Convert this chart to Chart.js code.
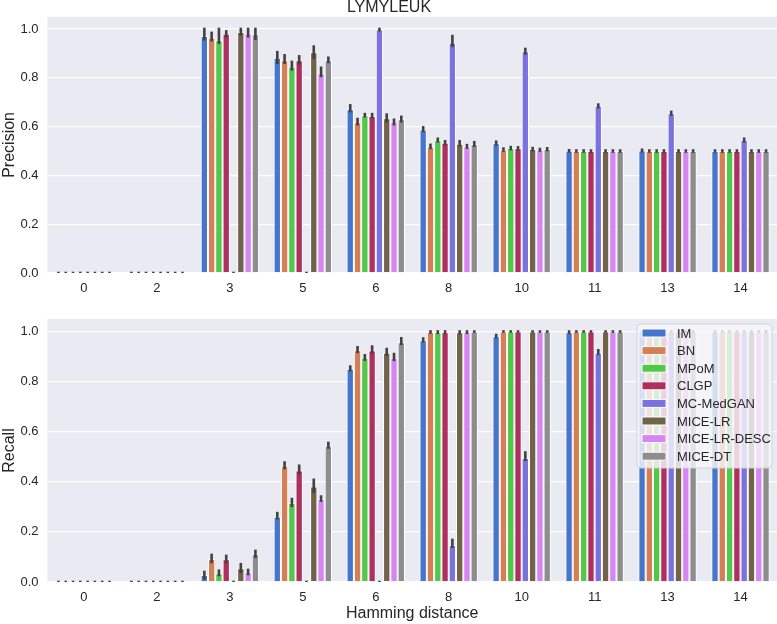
<!DOCTYPE html>
<html>
<head>
<meta charset="utf-8">
<title>LYMYLEUK</title>
<script src="https://cdn.jsdelivr.net/npm/chart.js@4.4.1/dist/chart.umd.min.js"></script>
<style>
  html, body { margin: 0; padding: 0; background: #fff; }
  #wrap { position: relative; width: 777px; height: 624px; }
  .box { position: absolute; left: 0; width: 777px; }
  #topBox { top: 0; height: 300px; }
  #bottomBox { top: 300px; height: 324px; }
</style>
</head>
<body>
<div id="wrap">
  <div class="box" id="topBox"><canvas id="precisionChart"></canvas></div>
  <div class="box" id="bottomBox"><canvas id="recallChart"></canvas></div>
</div>
<script>
const distances = ['0', '2', '3', '5', '6', '8', '10', '11', '13', '14'];
const methods = ['IM', 'BN', 'MPoM', 'CLGP', 'MC-MedGAN', 'MICE-LR', 'MICE-LR-DESC', 'MICE-DT'];
const colors = ['#4575CD', '#D47F55', '#4FC947', '#AF2F5E', '#7A72DE', '#71624A', '#D785F2', '#8D8D8D'];
const yTicks = [0, 0.2, 0.4, 0.6, 0.8, 1.0];

// precision, one row per method (same order as methods)
const precision = [
  [0, 0, 0.971, 0.882, 0.671, 0.587, 0.532, 0.501, 0.502, 0.500],
  [0, 0, 0.964, 0.872, 0.618, 0.517, 0.505, 0.500, 0.500, 0.500],
  [0, 0, 0.954, 0.845, 0.647, 0.544, 0.512, 0.500, 0.500, 0.500],
  [0, 0, 0.981, 0.872, 0.643, 0.534, 0.511, 0.500, 0.500, 0.500],
  [0, 0, 0, 0, 0.998, 0.944, 0.909, 0.685, 0.655, 0.545],
  [0, 0, 0.988, 0.905, 0.634, 0.530, 0.508, 0.500, 0.500, 0.500],
  [0, 0, 0.981, 0.819, 0.620, 0.518, 0.505, 0.500, 0.500, 0.500],
  [0, 0, 0.978, 0.872, 0.630, 0.528, 0.508, 0.500, 0.500, 0.500],
];
const precisionLow = [
  [0, 0, 0.958, 0.862, 0.664, 0.583, 0.527, 0.499, 0.499, 0.499],
  [0, 0, 0.954, 0.862, 0.610, 0.513, 0.502, 0.498, 0.498, 0.498],
  [0, 0, 0.944, 0.835, 0.643, 0.540, 0.508, 0.498, 0.498, 0.498],
  [0, 0, 0.970, 0.859, 0.638, 0.528, 0.507, 0.498, 0.498, 0.498],
  [0, 0, 0, 0, 0.995, 0.931, 0.900, 0.680, 0.650, 0.540],
  [0, 0, 0.978, 0.882, 0.622, 0.524, 0.504, 0.498, 0.498, 0.498],
  [0, 0, 0.970, 0.808, 0.610, 0.514, 0.502, 0.498, 0.498, 0.498],
  [0, 0, 0.960, 0.865, 0.622, 0.522, 0.504, 0.498, 0.498, 0.498],
];
const precisionHigh = [
  [0, 0, 1.000, 0.905, 0.687, 0.597, 0.538, 0.503, 0.505, 0.502],
  [0, 0, 0.984, 0.892, 0.631, 0.525, 0.510, 0.502, 0.502, 0.502],
  [0, 0, 1.000, 0.865, 0.651, 0.550, 0.516, 0.502, 0.502, 0.502],
  [0, 0, 0.990, 0.888, 0.651, 0.540, 0.515, 0.502, 0.502, 0.502],
  [0, 0, 0, 0, 1.000, 0.971, 0.918, 0.690, 0.660, 0.550],
  [0, 0, 1.000, 0.928, 0.649, 0.540, 0.512, 0.502, 0.502, 0.502],
  [0, 0, 1.000, 0.841, 0.628, 0.524, 0.508, 0.502, 0.502, 0.502],
  [0, 0, 1.000, 0.882, 0.640, 0.536, 0.511, 0.502, 0.502, 0.502],
];

// recall, one row per method
const recall = [
  [0, 0, 0.028, 0.261, 0.851, 0.965, 0.981, 0.997, 1.000, 1.000],
  [0, 0, 0.092, 0.464, 0.925, 0.998, 1.000, 1.000, 1.000, 1.000],
  [0, 0, 0.035, 0.315, 0.895, 0.997, 1.000, 1.000, 1.000, 1.000],
  [0, 0, 0.091, 0.445, 0.924, 0.997, 1.000, 1.000, 1.000, 1.000],
  [0, 0, 0, 0, 0, 0.148, 0.495, 0.915, 1.000, 1.000],
  [0, 0, 0.055, 0.381, 0.915, 0.997, 1.000, 1.000, 1.000, 1.000],
  [0, 0, 0.039, 0.331, 0.895, 0.997, 1.000, 1.000, 1.000, 1.000],
  [0, 0, 0.112, 0.544, 0.957, 1.000, 1.000, 1.000, 1.000, 1.000],
];
const recallLow = [
  [0, 0, 0.015, 0.255, 0.846, 0.962, 0.978, 0.995, 1.000, 1.000],
  [0, 0, 0.080, 0.455, 0.919, 0.996, 1.000, 1.000, 1.000, 1.000],
  [0, 0, 0.028, 0.304, 0.888, 0.995, 1.000, 1.000, 1.000, 1.000],
  [0, 0, 0.081, 0.435, 0.918, 0.995, 1.000, 1.000, 1.000, 1.000],
  [0, 0, 0, 0, 0, 0.141, 0.488, 0.912, 1.000, 1.000],
  [0, 0, 0.041, 0.361, 0.908, 0.995, 1.000, 1.000, 1.000, 1.000],
  [0, 0, 0.032, 0.325, 0.887, 0.995, 1.000, 1.000, 1.000, 1.000],
  [0, 0, 0.101, 0.537, 0.951, 1.000, 1.000, 1.000, 1.000, 1.000],
];
const recallHigh = [
  [0, 0, 0.040, 0.275, 0.860, 0.972, 0.986, 1.000, 1.000, 1.000],
  [0, 0, 0.108, 0.477, 0.937, 1.000, 1.000, 1.000, 1.000, 1.000],
  [0, 0, 0.045, 0.331, 0.905, 1.000, 1.000, 1.000, 1.000, 1.000],
  [0, 0, 0.104, 0.464, 0.940, 1.000, 1.000, 1.000, 1.000, 1.000],
  [0, 0, 0, 0, 0, 0.168, 0.517, 0.925, 1.000, 1.000],
  [0, 0, 0.071, 0.408, 0.930, 1.000, 1.000, 1.000, 1.000, 1.000],
  [0, 0, 0.048, 0.341, 0.910, 1.000, 1.000, 1.000, 1.000, 1.000],
  [0, 0, 0.124, 0.555, 0.973, 1.000, 1.000, 1.000, 1.000, 1.000],
];

const textColor = '#262626';
Chart.defaults.font.family = "'Liberation Sans', Arial, sans-serif";

// grey plot area like seaborn darkgrid
const plotBackground = {
  id: 'plotBackground',
  beforeDraw: (chart) => {
    const { ctx, chartArea: a } = chart;
    ctx.save();
    ctx.fillStyle = '#EAEAF2';
    ctx.fillRect(a.left, a.top, a.right - a.left, a.bottom - a.top);
    ctx.restore();
  },
};

// confidence interval lines on top of each bar
const errorBars = {
  id: 'errorBars',
  afterDatasetsDraw: (chart) => {
    const { ctx, chartArea: a } = chart;
    const y = chart.scales.y;
    const w = 2.6;
    ctx.save();
    ctx.beginPath();
    ctx.rect(a.left, a.top, a.right - a.left, a.bottom - a.top);
    ctx.clip();
    ctx.fillStyle = '#424242';
    chart.data.datasets.forEach((ds, i) => {
      chart.getDatasetMeta(i).data.forEach((bar, j) => {
        const yHi = y.getPixelForValue(ds.errHigh[j]);
        const yLo = y.getPixelForValue(ds.errLow[j]);
        ctx.fillRect(bar.x - w / 2, yHi - w / 2, w, yLo - yHi + w);
      });
    });
    ctx.restore();
  },
};

const suptitle = {
  id: 'suptitle',
  afterDraw: (chart) => {
    const { ctx } = chart;
    ctx.save();
    ctx.fillStyle = textColor;
    ctx.font = "16px 'Liberation Sans', Arial, sans-serif";
    ctx.textAlign = 'center';
    ctx.textBaseline = 'alphabetic';
    ctx.fillText('LYMYLEUK', 389, 12);
    ctx.restore();
  },
};

const boxLegend = {
  id: 'boxLegend',
  afterDraw: (chart) => {
    const { ctx, chartArea: a } = chart;
    const left = a.right - 140;
    const top = a.top + 5;
    const w = 135;
    const h = 144;
    ctx.save();
    ctx.beginPath();
    ctx.roundRect(left, top, w, h, 4);
    ctx.fillStyle = 'rgba(246, 246, 250, 0.82)';
    ctx.fill();
    ctx.strokeStyle = '#D3D3DB';
    ctx.lineWidth = 1;
    ctx.stroke();
    ctx.font = "13px 'Liberation Sans', Arial, sans-serif";
    ctx.textBaseline = 'middle';
    methods.forEach((m, i) => {
      const cy = top + 9 + i * 17.6;
      ctx.fillStyle = colors[i];
      ctx.fillRect(left + 5, cy - 4, 24, 8);
      ctx.strokeStyle = '#FFFFFF';
      ctx.strokeRect(left + 5, cy - 4, 24, 8);
      ctx.fillStyle = textColor;
      ctx.fillText(m, left + 40, cy + 1);
    });
    ctx.restore();
  },
};

const buildChart = (id, values, lows, highs, yTitle, extra) => {
  const ctx = document?.getElementById(id)?.getContext('2d');
  return new Chart(ctx, {
    type: 'bar',
    data: {
      labels: distances,
      datasets: methods.map((m, i) => ({
        label: m,
        data: values[i],
        errLow: lows[i],
        errHigh: highs[i],
        backgroundColor: colors[i],
        borderColor: '#FFFFFF',
        borderWidth: 1,
        categoryPercentage: 0.8,
        barPercentage: 1,
      })),
    },
    options: {
      responsive: true,
      maintainAspectRatio: false,
      animation: false,
      layout: {
        padding: { top: extra.top, right: 0, left: 0, bottom: 0 },
      },
      plugins: {
        legend: {
          display: false,
        },
        tooltip: {
          enabled: false,
        },
      },
      scales: {
        x: {
          grid: {
            display: false,
            drawTicks: false,
          },
          border: {
            display: false,
          },
          ticks: {
            color: textColor,
            font: { size: 13 },
            padding: 8,
            maxRotation: 0,
            autoSkip: false,
          },
          title: {
            display: !!extra.xTitle,
            text: extra.xTitle || '',
            color: textColor,
            font: { size: 16 },
            padding: { top: 0, bottom: 1 },
          },
          afterFit: (scale) => {
            scale.height = extra.xHeight;
          },
        },
        y: {
          min: 0,
          max: 1.05,
          grid: {
            color: '#FFFFFF',
            lineWidth: 1.3,
            drawTicks: false,
          },
          border: {
            display: false,
          },
          afterBuildTicks: (scale) => {
            scale.ticks = yTicks.map((v) => ({ value: v }));
          },
          ticks: {
            color: textColor,
            font: { size: 13 },
            padding: 9,
            callback: function (value) {
              return Number(value).toFixed(1);
            },
          },
          title: {
            display: true,
            text: yTitle,
            color: textColor,
            font: { size: 16 },
            padding: 0,
          },
          afterFit: (scale) => {
            scale.width = 47.5;
          },
        },
      },
    },
    plugins: [plotBackground, errorBars, ...extra.plugins],
  });
};

window.addEventListener('load', () => {
  buildChart('precisionChart', precision, precisionLow, precisionHigh, 'Precision', {
    top: 10,
    xHeight: 27,
    plugins: [suptitle],
  });
  buildChart('recallChart', recall, recallLow, recallHigh, 'Recall', {
    top: 19,
    xHeight: 42,
    xTitle: 'Hamming distance',
    plugins: [boxLegend],
  });
});
</script>
</body>
</html>
